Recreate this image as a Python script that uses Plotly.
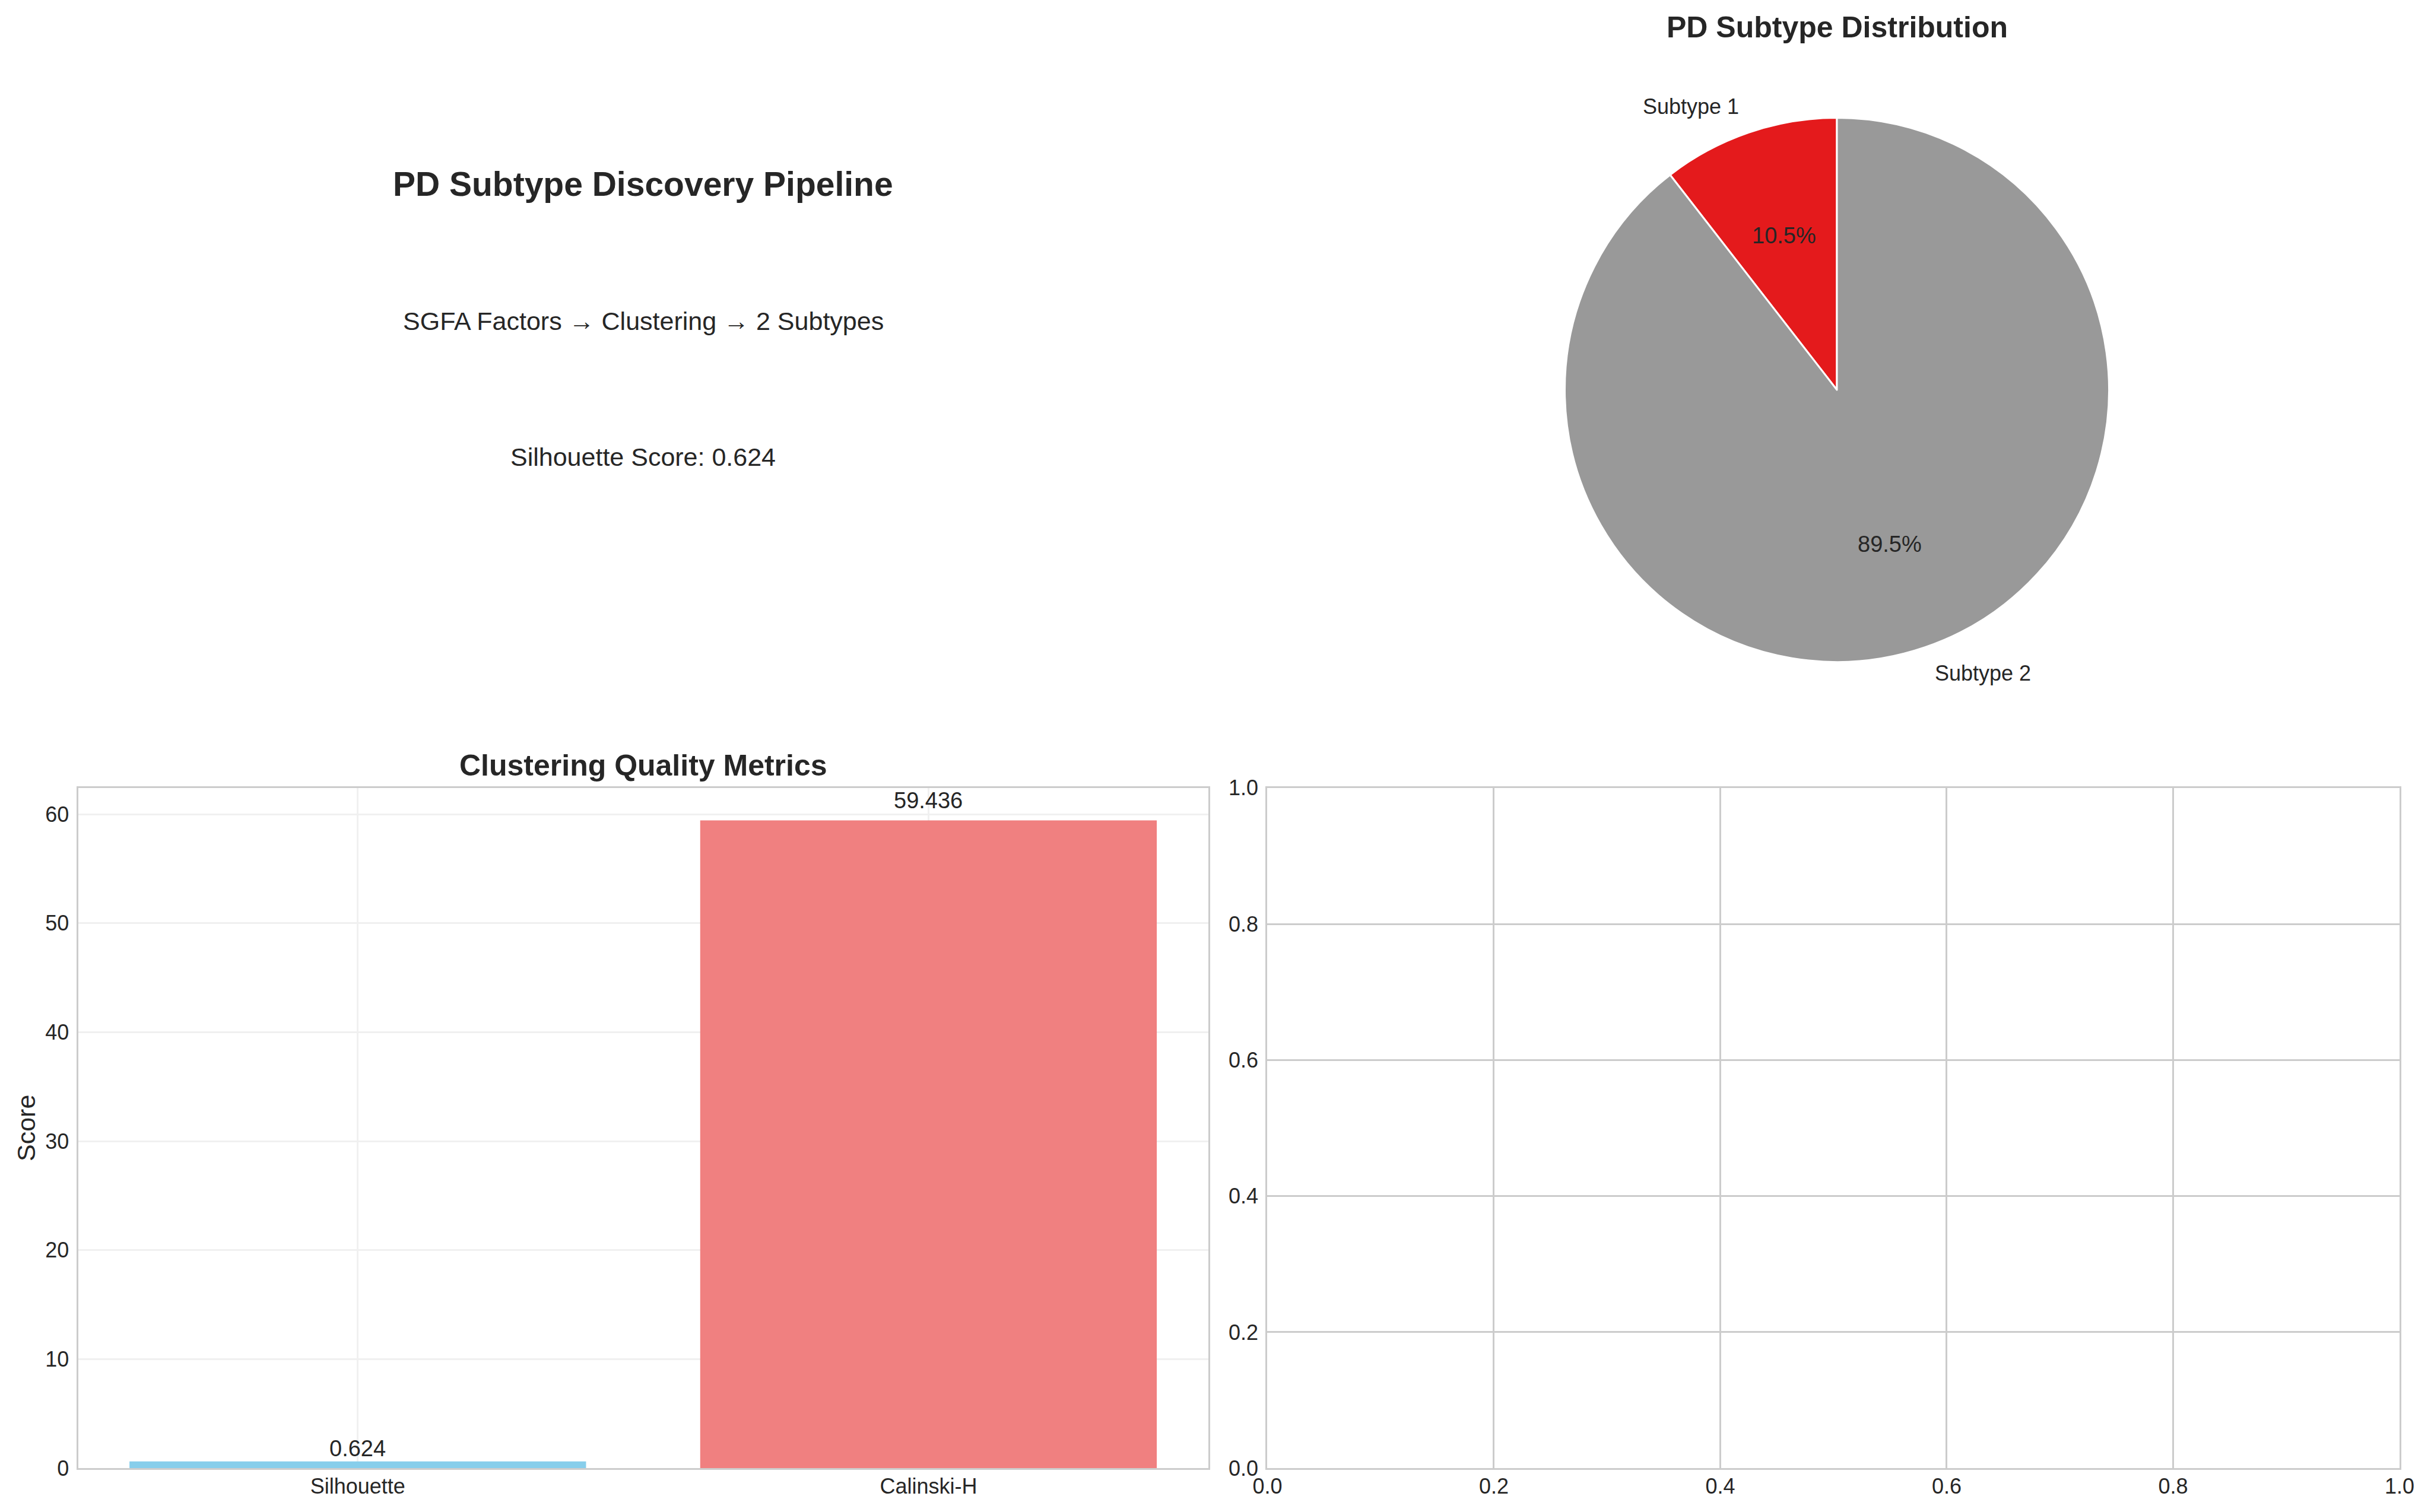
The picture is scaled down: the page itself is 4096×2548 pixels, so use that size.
import math
import plotly.graph_objects as go

W, H = 4096, 2548

# ---------------- data ----------------
metric_names = ["Silhouette", "Calinski-H"]
metric_values = [0.624, 59.436]
metric_colors = ["#87CEEB", "#F08080"]

subtype_labels = ["Subtype 1", "Subtype 2"]
subtype_pct = [10.5, 89.5]
subtype_colors = ["#E41A1C", "#999999"]

pipeline_title = "PD Subtype Discovery Pipeline"
pipeline_flow = "SGFA Factors → Clustering → 2 Subtypes"
silhouette_text = "Silhouette Score: 0.624"

score_ticks = [0, 10, 20, 30, 40, 50, 60]
empty_ticks = [0.0, 0.2, 0.4, 0.6, 0.8, 1.0]

# ---------------- layout geometry (pixels) ----------------
FONT = "Liberation Sans, Arial, sans-serif"
TXT = "#262626"
SPINE = "#cccccc"

LAX = (131.6, 2035.6)
RAX = (2135.4, 4042.9)
AXY = (1327.8, 2474.2)
PIE_C = (3095.0, 657.0)
PIE_R = 458.5


def fx(x):
    return x / W


def fy(y):
    return 1 - y / H


fig = go.Figure()

# ---------------- bar chart ----------------
fig.add_trace(go.Bar(
    x=metric_names, y=metric_values, width=0.8,
    marker=dict(color=metric_colors, line=dict(width=0)),
    xaxis="x", yaxis="y", showlegend=False, hoverinfo="skip",
))

# empty axes placeholder
fig.add_trace(go.Scatter(x=[], y=[], xaxis="x2", yaxis="y2", showlegend=False))

# ---------------- pie ----------------
total = sum(subtype_pct)
first_span = 360.0 * subtype_pct[0] / total
fig.add_trace(go.Pie(
    labels=subtype_labels, values=subtype_pct, sort=False,
    direction="counterclockwise", rotation=-first_span,
    marker=dict(colors=subtype_colors, line=dict(color="white", width=3)),
    textinfo="none", hoverinfo="skip", showlegend=False,
    domain=dict(x=[fx(PIE_C[0] - PIE_R), fx(PIE_C[0] + PIE_R)],
                y=[fy(PIE_C[1] + PIE_R), fy(PIE_C[1] - PIE_R)]),
))

ann = []

# pie labels / percentages (matplotlib-like placement)
start = 90.0
for lab, v in zip(subtype_labels, subtype_pct):
    span = 360.0 * v / total
    mid = math.radians(start + span / 2)
    c, s = math.cos(mid), math.sin(mid)
    lx = PIE_C[0] + 1.1 * PIE_R * c
    ly = PIE_C[1] - 1.1 * PIE_R * s
    ann.append(dict(x=fx(lx), y=fy(ly), xref="paper", yref="paper",
                    text=lab, showarrow=False,
                    xanchor="right" if c < 0 else "left", yanchor="middle",
                    font=dict(family=FONT, size=36, color=TXT)))
    px_ = PIE_C[0] + 0.6 * PIE_R * c
    py_ = PIE_C[1] - 0.6 * PIE_R * s
    ann.append(dict(x=fx(px_), y=fy(py_), xref="paper", yref="paper",
                    text=f"{100 * v / total:.1f}%", showarrow=False,
                    xanchor="center", yanchor="middle",
                    font=dict(family=FONT, size=38, color=TXT)))
    start += span

# bar value labels
for n, v in zip(metric_names, metric_values):
    ann.append(dict(x=n, y=v * 1.01, xref="x", yref="y", text=f"{v:.3f}",
                    showarrow=False, xanchor="center", yanchor="middle",
                    yshift=22, font=dict(family=FONT, size=38, color=TXT)))

# titles
ann.append(dict(x=fx(PIE_C[0]), y=fy(46), xref="paper", yref="paper",
                text="<b>PD Subtype Distribution</b>", showarrow=False,
                xanchor="center", yanchor="middle",
                font=dict(family=FONT, size=50, color=TXT)))
ann.append(dict(x=fx((LAX[0] + LAX[1]) / 2), y=fy(1290), xref="paper", yref="paper",
                text="<b>Clustering Quality Metrics</b>", showarrow=False,
                xanchor="center", yanchor="middle",
                font=dict(family=FONT, size=50, color=TXT)))
# y-axis label
ann.append(dict(x=fx(44), y=fy((AXY[0] + AXY[1]) / 2), xref="paper", yref="paper",
                text="Score", textangle=-90, showarrow=False,
                xanchor="center", yanchor="middle",
                font=dict(family=FONT, size=43, color=TXT)))

# text panel
cx_text = fx((LAX[0] + LAX[1]) / 2)
ann.append(dict(x=cx_text, y=fy(310), xref="paper", yref="paper",
                text=f"<b>{pipeline_title}</b>", showarrow=False,
                xanchor="center", yanchor="middle",
                font=dict(family=FONT, size=57, color=TXT)))
ann.append(dict(x=cx_text, y=fy(541), xref="paper", yref="paper",
                text=pipeline_flow, showarrow=False,
                xanchor="center", yanchor="middle",
                font=dict(family=FONT, size=43, color=TXT)))
ann.append(dict(x=cx_text, y=fy(770), xref="paper", yref="paper",
                text=silhouette_text, showarrow=False,
                xanchor="center", yanchor="middle",
                font=dict(family=FONT, size=43, color=TXT)))

# axis ranges derived from data (matplotlib-style margins)
bw = 0.8
xmin_b, xmax_b = -bw / 2, len(metric_names) - 1 + bw / 2
xpad = 0.05 * (xmax_b - xmin_b)
ymax_b = max(metric_values) * 1.05

tickfont = dict(family=FONT, size=36, color=TXT)
common = dict(showline=True, mirror=True, linecolor=SPINE, linewidth=3.4,
              ticks="", zeroline=False, tickfont=tickfont, automargin=False)

XSTAND = -4
YSTAND = 5

fig.update_layout(
    template="none",
    width=W, height=H, margin=dict(l=0, r=0, t=0, b=0, pad=0),
    paper_bgcolor="white", plot_bgcolor="white",
    font=dict(family=FONT, color=TXT),
    xaxis=dict(domain=[fx(LAX[0]), fx(LAX[1])], anchor="y",
               range=[xmin_b - xpad, xmax_b + xpad],
               showgrid=True, gridcolor="#f0f0f0", gridwidth=2.5,
               ticklabelstandoff=XSTAND, **common),
    yaxis=dict(domain=[fy(AXY[1]), fy(AXY[0])], anchor="x",
               range=[0, ymax_b], tickvals=score_ticks,
               showgrid=True, gridcolor="#f0f0f0", gridwidth=2.5,
               ticklabelstandoff=YSTAND, **common),
    xaxis2=dict(domain=[fx(RAX[0]), fx(RAX[1])], anchor="y2",
                range=[0, 1], tickvals=empty_ticks, tickformat=".1f",
                showgrid=True, gridcolor=SPINE, gridwidth=2.5,
                ticklabelstandoff=XSTAND, **common),
    yaxis2=dict(domain=[fy(AXY[1]), fy(AXY[0])], anchor="x2",
                range=[0, 1], tickvals=empty_ticks, tickformat=".1f",
                showgrid=True, gridcolor=SPINE, gridwidth=2.5,
                ticklabelstandoff=YSTAND, **common),
    annotations=ann,
)

fig.write_html("out.html")
